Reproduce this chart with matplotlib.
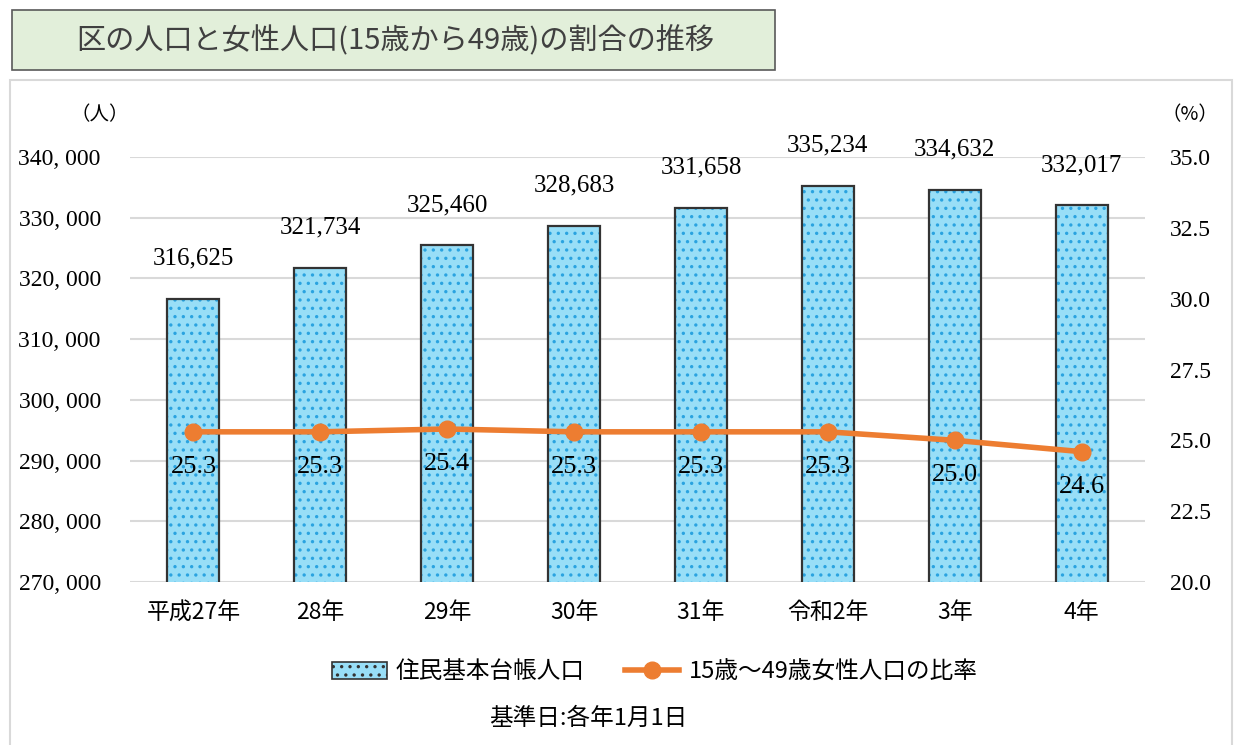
import matplotlib
matplotlib.use("Agg")
import matplotlib.pyplot as plt
from matplotlib.patches import Rectangle, Patch
from matplotlib.lines import Line2D
from matplotlib.ticker import FuncFormatter

plt.rcParams['font.family'] = ['Noto Sans CJK JP', 'DejaVu Sans']

categories = ["平成27年", "28年", "29年", "30年", "31年", "令和2年", "3年", "4年"]
population = [316625, 321734, 325460, 328683, 331658, 335234, 334632, 332017]
ratio = [25.3, 25.3, 25.4, 25.3, 25.3, 25.3, 25.0, 24.6]
left_ticks = [270000, 280000, 290000, 300000, 310000, 320000, 330000, 340000]
right_ticks = [20.0, 22.5, 25.0, 27.5, 30.0, 32.5, 35.0]

title = "区の人口と女性人口(15歳から49歳)の割合の推移"
bar_label = "住民基本台帳人口"
line_label = "15歳～49歳女性人口の比率"
note = "基準日:各年1月1日"

W, H = 1234, 745
fig = plt.figure(figsize=(W / 100, H / 100), dpi=100)

# outer frame and title box
fig.add_artist(Rectangle((10 / W, -0.01), 1222 / W, 1 - 80 / H + 0.01, transform=fig.transFigure,
                         facecolor='none', edgecolor='#d9d9d9', lw=1.5))
fig.add_artist(Rectangle((12 / W, 1 - 70 / H), 763 / W, 60 / H, transform=fig.transFigure,
                         facecolor='#e2efda', edgecolor='#595959', lw=1.2))
fig.text(395 / W, 1 - 41 / H, title, ha='center', va='center', fontsize=21, color='#404040')

ax = fig.add_axes([130 / W, 1 - 582 / H, 1015 / W, 425 / H])
ax2 = ax.twinx()
ax.set_zorder(1)
ax2.set_zorder(2)
ax.patch.set_visible(False)
ax2.patch.set_visible(False)

x = list(range(len(categories)))
plt.rcParams['hatch.linewidth'] = 1.2
ax.bar(x, population, width=0.41, color='#98def7', edgecolor='#2aa3e0', hatch='..', lw=0, zorder=2)
ax.bar(x, population, width=0.41, facecolor='none', edgecolor='#333333', lw=1.6, zorder=3)
ax.set_ylim(270000, 340000)
ax.set_xlim(-0.5, len(categories) - 0.5)
ax.set_yticks(left_ticks)
ax.yaxis.set_major_formatter(FuncFormatter(lambda v, p: f"{int(v):,}".replace(",", ", ")))
ax.grid(axis='y', color='#d9d9d9', lw=1.5, zorder=0)
ax.set_axisbelow(True)
for s in ax.spines.values():
    s.set_visible(False)
for s in ax2.spines.values():
    s.set_visible(False)
ax.tick_params(axis='y', length=0, pad=21, labelsize=17)
ax.tick_params(axis='x', length=0, pad=14, labelsize=16.5)
ax.set_xticks(x)
ax.set_xticklabels(categories)
for lab in ax.get_yticklabels():
    lab.set_family(['Liberation Serif'])

for xi, v in zip(x, population):
    ax.annotate(f"{v:,}", (xi, v), xytext=(0, 40), textcoords='offset pixels',
                ha='center', va='center', fontsize=18, family=['Liberation Serif'], color='#000000')

ax2.plot(x, ratio, color='#ed7d31', lw=4, marker='o', markersize=12, zorder=4)
ax2.set_ylim(20.0, 35.0)
ax2.set_yticks(right_ticks)
ax2.yaxis.set_major_formatter(FuncFormatter(lambda v, p: f"{v:.1f}"))
ax2.tick_params(axis='y', length=0, pad=18, labelsize=17)
for lab in ax2.get_yticklabels():
    lab.set_family(['Liberation Serif'])
for xi, v in zip(x, ratio):
    ax2.annotate(f"{v:.1f}", (xi, v), xytext=(0, -35), textcoords='offset pixels',
                 ha='center', va='center', fontsize=19, family=['Liberation Serif'], color='#000000')

fig.text(100 / W, 1 - 115 / H, "（人）", ha='center', va='center', fontsize=14)
fig.text(1190 / W, 1 - 115 / H, "（%）", ha='center', va='center', fontsize=14)

handles = [Patch(facecolor='#98def7', edgecolor='#333333', hatch='..', lw=1.2),
           Line2D([0], [0], color='#ed7d31', lw=4, marker='o', markersize=12)]
leg = fig.legend(handles, [bar_label, line_label], loc='center', bbox_to_anchor=(655 / W, 1 - 672 / H),
                 ncol=2, frameon=False, fontsize=17, handlelength=2.3, columnspacing=1.7, handletextpad=0.4)
fig.text(588 / W, 1 - 718 / H, note, ha='center', va='center', fontsize=17)

fig.savefig("out.png", dpi=100)
